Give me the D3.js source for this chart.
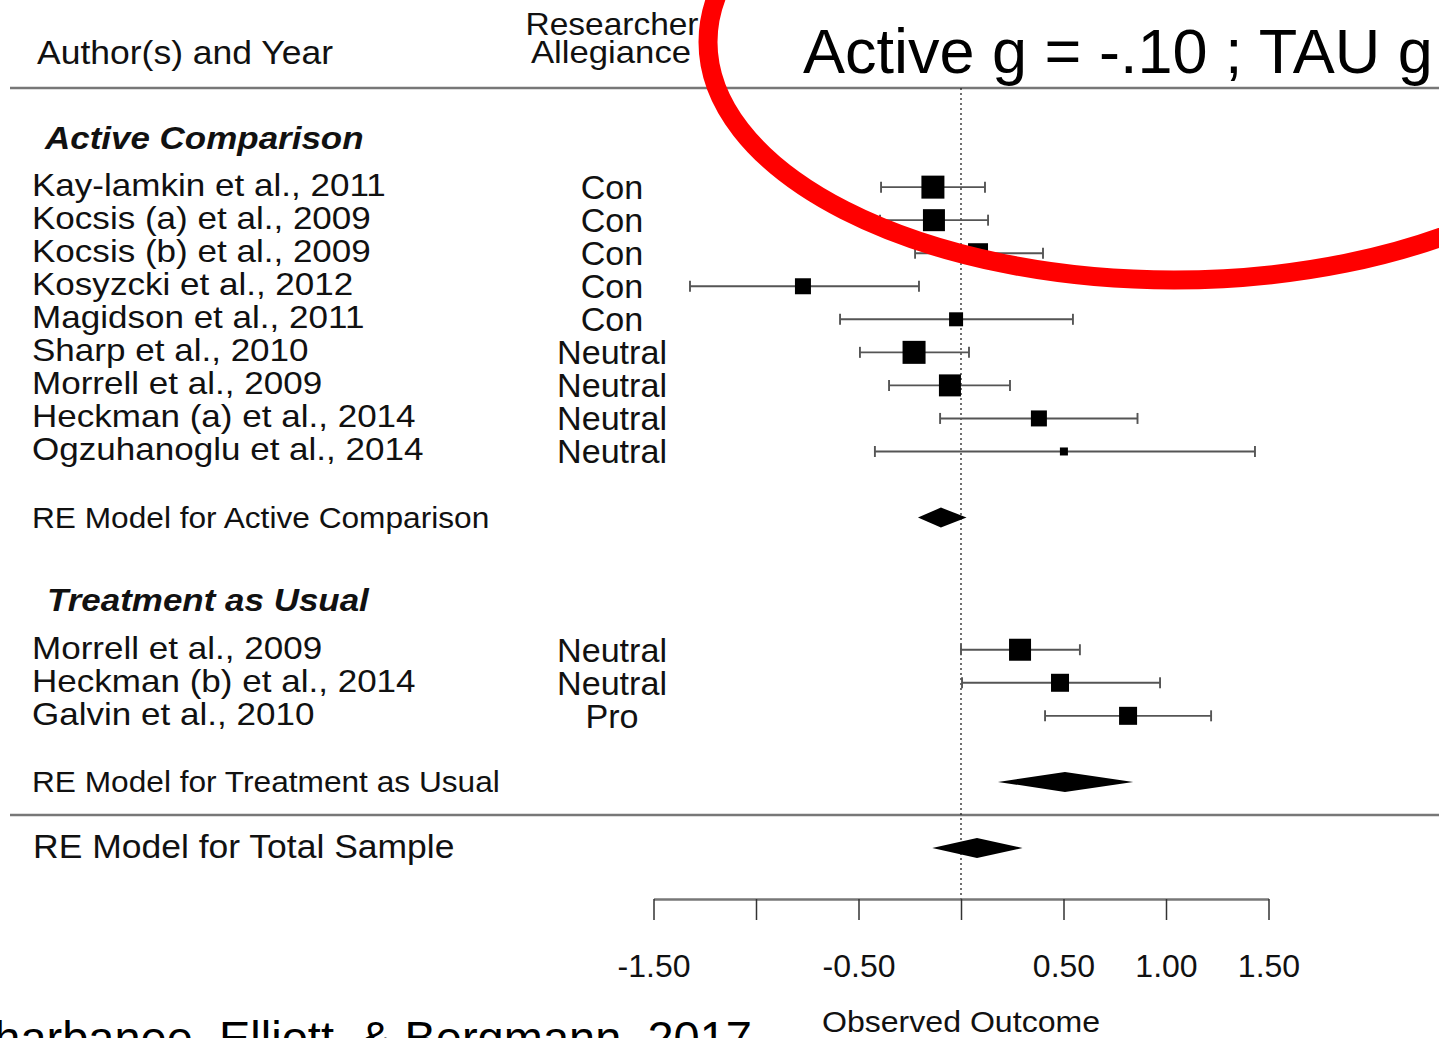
<!DOCTYPE html>
<html>
<head>
<meta charset="utf-8">
<script src="https://cdn.jsdelivr.net/npm/d3@7"></script>
<style>
  html, body { margin: 0; padding: 0; background: #fff; overflow: hidden; }
  svg { display: block; }
  text { font-family: "Liberation Sans", Arial, Helvetica, sans-serif; fill: #111; }
</style>
</head>
<body>
<svg id="chart" width="1439" height="1038"></svg>
<script>
// Study-level effect sizes (Hedges g) with 95% CI
const studies = [
  "Kay-lamkin et al., 2011",
  "Kocsis (a) et al., 2009",
  "Kocsis (b) et al., 2009",
  "Kosyzcki et al., 2012",
  "Magidson et al., 2011",
  "Sharp et al., 2010",
  "Morrell et al., 2009",
  "Heckman (a) et al., 2014",
  "Ogzuhanoglu et al., 2014",
  "Morrell et al., 2009",
  "Heckman (b) et al., 2014",
  "Galvin et al., 2010"
];
const allegiance = ["Con", "Con", "Con", "Con", "Con", "Neutral", "Neutral", "Neutral", "Neutral", "Neutral", "Neutral", "Pro"];
const comparison = ["Active", "Active", "Active", "Active", "Active", "Active", "Active", "Active", "Active", "TAU", "TAU", "TAU"];
const estimates = [-0.137, -0.132, 0.083, -0.771, -0.024, -0.229, -0.054, 0.380, 0.502, 0.288, 0.483, 0.815];
const ciLower   = [-0.390, -0.395, -0.224, -1.322, -0.590, -0.493, -0.351, -0.102, -0.420, 0.000, 0.005, 0.410];
const ciUpper   = [ 0.117,  0.132,  0.400, -0.205,  0.546,  0.039,  0.239,  0.861,  1.434, 0.580, 0.971, 1.220];
const weights   = [11.5, 11.0, 10.0, 8.0, 7.0, 11.5, 11.0, 8.0, 4.0, 11.0, 9.0, 9.0];

// Subgroup and overall random-effects summaries
const groupKeys    = ["Active", "TAU"];
const groupTitles  = ["Active Comparison", "Treatment as Usual"];
const modelLabels  = ["RE Model for Active Comparison", "RE Model for Treatment as Usual"];
const modelEst     = [-0.098, 0.507];
const modelLower   = [-0.210, 0.180];
const modelUpper   = [ 0.027, 0.840];
const totalLabel   = "RE Model for Total Sample";
const totalEst     = 0.078;
const totalLower   = -0.140;
const totalUpper   = 0.300;

// Axis
const tickValues = [-1.5, -1.0, -0.5, 0, 0.5, 1.0, 1.5];
const tickLabels = ["-1.50", "", "-0.50", "", "0.50", "1.00", "1.50"];

const svg = d3.select("#chart");

const x = d3.scaleLinear().domain([-1.5, 1.5]).range([653.5, 1268.5]);
// rows counted upward from the overall summary row
const y = d3.scaleLinear().domain([0, 23]).range([848, 88]);

const size = d3.scaleLinear().domain([0, d3.max(weights)]).range([0, 23]);

// Row layout: per group header, studies, blank, summary
const rowOf = new Array(studies.length);
const headerRow = [21.5, 7.5], modelRow = [];
const groupStart = [20, 6];
groupKeys.forEach((g, gi) => {
  let r = groupStart[gi];
  comparison.forEach((c, i) => { if (c === g) { rowOf[i] = r; r -= 1; } });
  modelRow.push(r - 1);
});

function label(txt, px, py, opts) {
  const t = svg.append("text")
    .attr("transform", `translate(${px},${py}) scale(${opts.sx || 1},1)`)
    .attr("font-size", opts.size)
    .attr("text-anchor", opts.anchor || "start")
    .text(txt);
  if (opts.weight) t.attr("font-weight", opts.weight);
  if (opts.style) t.attr("font-style", opts.style);
  if (opts.fill) t.style("fill", opts.fill);
  return t;
}

// Horizontal rules
[23, 1].forEach(r => {
  svg.append("line")
    .attr("x1", 10).attr("x2", 1439)
    .attr("y1", y(r)).attr("y2", y(r))
    .attr("stroke", "#777").attr("stroke-width", 2.5);
});

// Column headers
label("Author(s) and Year", 37, 64, { size: 33.5, sx: 1.06 });
label("Researcher", 612, 35, { size: 31, anchor: "middle", sx: 1.08 });
label("Allegiance", 611, 63, { size: 31, anchor: "middle", sx: 1.12 });

// Reference line at zero
svg.append("line")
  .attr("x1", x(0)).attr("x2", x(0))
  .attr("y1", y(23)).attr("y2", 899)
  .attr("stroke", "#222").attr("stroke-width", 1.3)
  .attr("stroke-dasharray", "2,3");

// Group titles
groupTitles.forEach((t, gi) => {
  label(t, gi === 0 ? 45 : 47, y(headerRow[gi]) + 11, { size: 31.5, weight: "bold", style: "italic", sx: 1.11 });
});

// Study labels
studies.forEach((s, i) => {
  label(s, 32, y(rowOf[i]) + 9, { size: 32, sx: 1.095 });
  label(allegiance[i], 612, y(rowOf[i]) + 12, { size: 32.5, anchor: "middle", sx: 1.05 });
});

// Confidence intervals
const ci = svg.append("g").attr("stroke", "#555").attr("stroke-width", 1.9);
studies.forEach((s, i) => {
  const yy = y(rowOf[i]);
  ci.append("line").attr("x1", x(ciLower[i])).attr("x2", x(ciUpper[i])).attr("y1", yy).attr("y2", yy);
  [ciLower[i], ciUpper[i]].forEach(v => {
    ci.append("line").attr("x1", x(v)).attr("x2", x(v)).attr("y1", yy - 5.5).attr("y2", yy + 5.5);
  });
});

// Point estimates (squares scaled by weight)
svg.append("g").selectAll("rect")
  .data(studies.map((s, i) => i))
  .join("rect")
  .attr("x", i => x(estimates[i]) - size(weights[i]) / 2)
  .attr("y", i => y(rowOf[i]) - size(weights[i]) / 2)
  .attr("width", i => size(weights[i]))
  .attr("height", i => size(weights[i]))
  .attr("fill", "#000");

// Summary diamonds
function diamond(est, lo, hi, yy, h) {
  const p = d3.path();
  p.moveTo(x(lo), yy);
  p.lineTo(x(est), yy - h);
  p.lineTo(x(hi), yy);
  p.lineTo(x(est), yy + h);
  p.closePath();
  svg.append("path").attr("d", p.toString()).attr("fill", "#000");
}
modelLabels.forEach((m, gi) => {
  label(m, 32, y(modelRow[gi]) + 10, { size: 30, sx: 1.055 });
  diamond(modelEst[gi], modelLower[gi], modelUpper[gi], y(modelRow[gi]), 10);
});
label(totalLabel, 33, y(0) + 10, { size: 33.5, sx: 1.06 });
diamond(totalEst, totalLower, totalUpper, y(0), 10);

// X axis
const axis = d3.axisBottom(x)
  .tickValues(tickValues)
  .tickFormat((d, i) => tickLabels[i])
  .tickSize(21)
  .tickSizeOuter(0)
  .tickPadding(34);
const gAxis = svg.append("g").attr("transform", "translate(0,899)").call(axis);
gAxis.select(".domain").attr("stroke", "#777").attr("stroke-width", 2.5);
gAxis.selectAll(".tick line").attr("stroke", "#333").attr("stroke-width", 1.5);
gAxis.selectAll(".tick text")
  .attr("font-family", "Liberation Sans, Arial, sans-serif")
  .attr("font-size", 32)
  .attr("fill", "#111");

label("Observed Outcome", x(0), 1032, { size: 30, anchor: "middle", sx: 1.07 });

// Annotation
label("Active g = -.10 ; TAU g", 803, 73, { size: 63, fill: "#000" });
svg.append("ellipse")
  .attr("cx", 1174).attr("cy", 42)
  .attr("rx", 466).attr("ry", 238)
  .attr("fill", "none")
  .attr("stroke", "#ff0000")
  .attr("stroke-width", 19);

// Source
label("Sharbanee, Elliott, & Bergmann, 2017", 752, 1054, { size: 47, anchor: "end", fill: "#000" });
</script>
</body>
</html>
